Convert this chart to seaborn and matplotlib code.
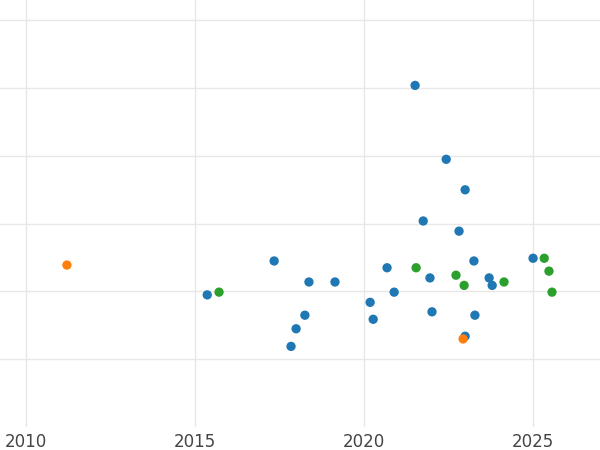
import numpy as np
import pandas as pd
import matplotlib
matplotlib.use("Agg")
import matplotlib.pyplot as plt
import seaborn as sns

blue_year = [2021.51, 2022.43, 2022.99, 2021.75, 2022.81, 2017.34, 2023.25, 2025.0,
             2020.68, 2021.95, 2023.70, 2018.37, 2019.14, 2023.79, 2015.36, 2020.89,
             2020.18, 2022.01, 2018.25, 2023.28, 2020.27, 2017.99, 2022.99, 2017.84]
blue_val = [5.04, 3.95, 3.50, 3.04, 2.89, 2.45, 2.45, 2.49,
            2.35, 2.20, 2.20, 2.14, 2.14, 2.09, 1.95, 1.99,
            1.84, 1.70, 1.65, 1.65, 1.59, 1.45, 1.34, 1.19]
orange_year = [2011.21, 2022.93]
orange_val = [2.39, 1.30]
green_year = [2015.71, 2021.54, 2022.72, 2022.96, 2024.14, 2025.33, 2025.47, 2025.56]
green_val = [1.99, 2.35, 2.24, 2.09, 2.14, 2.49, 2.30, 1.99]

df = pd.concat([
    pd.DataFrame({"year": blue_year, "value": blue_val, "group": "a"}),
    pd.DataFrame({"year": orange_year, "value": orange_val, "group": "b"}),
    pd.DataFrame({"year": green_year, "value": green_val, "group": "c"}),
])

sns.set_style("whitegrid")
fig = plt.figure(figsize=(6, 4.5), dpi=100)
ax = fig.add_axes([0, 0.051, 1, 0.949])
sns.scatterplot(data=df, x="year", y="value", hue="group",
                palette=["#1f77b4", "#ff7f0e", "#2ca02c"],
                s=45, edgecolor="none", legend=False, ax=ax)
ax.set_xlim(2009.23, 2026.98)
ax.set_ylim(0, 6.3)
ax.set_xticks([2010, 2015, 2020, 2025])
ax.set_yticks([1, 2, 3, 4, 5, 6])
ax.tick_params(axis="y", labelleft=False, length=0)
ax.tick_params(axis="x", labelsize=12, colors="#444444", length=0, pad=4)
ax.grid(color="#e8e8e8", linewidth=1)
ax.set_xlabel("")
ax.set_ylabel("")
for s in ax.spines.values():
    s.set_visible(False)
fig.savefig("out.png")
